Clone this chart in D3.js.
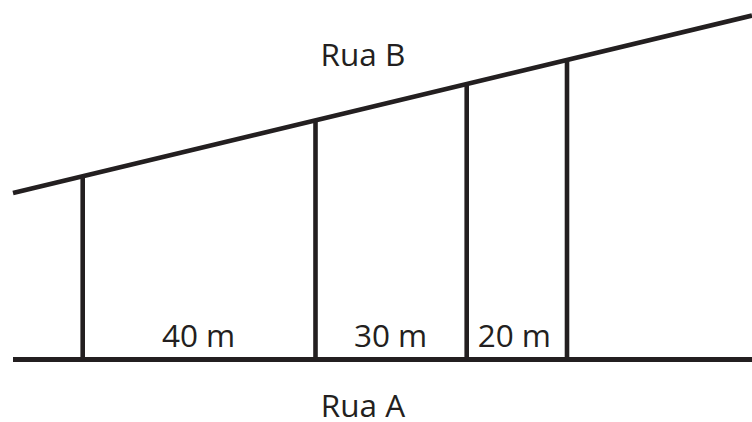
<!DOCTYPE html>
<html><head><meta charset="utf-8">
<script src="https://cdn.jsdelivr.net/npm/d3@7"></script>
<style>html,body{margin:0;padding:0;background:#fff;}svg{display:block;}</style>
</head><body>
<script>
// Data
const segments = ["40 m", "30 m", "20 m"];
const segmentMeters = [40, 30, 20];
const streetLabels = ["Rua B", "Rua A"];

const W = 752, H = 422;
const ink = "#231f20";
const svg = d3.select("body").append("svg").attr("width", W).attr("height", H);

// cumulative positions of the dividing lines (in meters)
const cum = [0];
segmentMeters.forEach(m => cum.push(cum[cum.length - 1] + m));

// diagram is not drawn to scale: piecewise scale
const x = d3.scaleLinear().domain(cum).range([82.7, 315.5, 466.7, 567]);
const yA = 359.5;
const roadB = d3.scaleLinear().domain([13, 752]).range([193, 15.5]);

// Rua A
svg.append("line").attr("x1", 13).attr("x2", W).attr("y1", yA).attr("y2", yA)
  .attr("stroke", ink).attr("stroke-width", 5);
// Rua B
svg.append("line").attr("x1", 13).attr("x2", W).attr("y1", roadB(13)).attr("y2", roadB(W))
  .attr("stroke", ink).attr("stroke-width", 4.8);

// verticals
svg.selectAll("line.v").data(cum).join("line").attr("class", "v")
  .attr("x1", d => x(d)).attr("x2", d => x(d))
  .attr("y1", yA).attr("y2", d => roadB(x(d)))
  .attr("stroke", ink).attr("stroke-width", 4.6);

// segment labels
svg.selectAll("text.seg").data(segments).join("text").attr("class", "seg")
  .attr("x", (d, i) => (x(cum[i]) + x(cum[i + 1])) / 2 - (i === 2 ? 2.5 : 0.5))
  .attr("y", 346.7)
  .attr("text-anchor", "middle")
  .attr("font-family", "Open Sans")
  .attr("font-size", 31.5)
  .attr("fill", ink)
  .text(d => d);

// street labels
svg.append("text").attr("x", 363).attr("y", 66).attr("text-anchor", "middle")
  .attr("font-family", "Open Sans").attr("font-size", 31.5).attr("fill", ink).text(streetLabels[0]);
svg.append("text").attr("x", 363).attr("y", 417).attr("text-anchor", "middle")
  .attr("font-family", "Open Sans").attr("font-size", 31.5).attr("fill", ink).text(streetLabels[1]);
</script>
</body></html>
